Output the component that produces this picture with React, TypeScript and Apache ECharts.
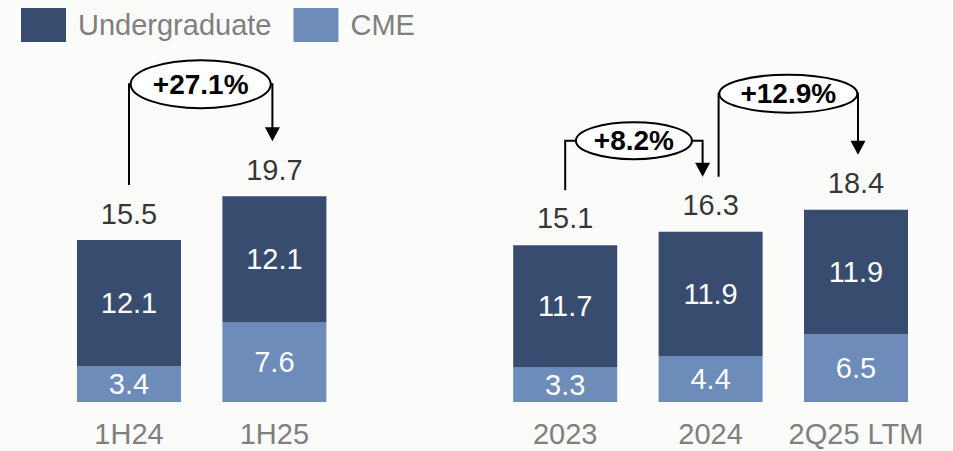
import React, { useEffect, useRef } from 'react';
import * as echarts from 'echarts';

const categories = ['1H24', '1H25', '', '2023', '2024', '2Q25 LTM'];
const undergraduate = [12.1, 12.1, null, 11.7, 11.9, 11.9];
const cme = [3.4, 7.6, null, 3.3, 4.4, 6.5];
const totals = [15.5, 19.7, null, 15.1, 16.3, 18.4];
const growthLabels = ['+27.1%', '+8.2%', '+12.9%'];
const growthFrom = [0, 3, 4];
const growthTo = [1, 4, 5];

const FONT = "'Liberation Sans', Arial, sans-serif";
const DARK = '#374c6e';
const LIGHT = '#6d8cb9';
const GRAY = '#7f7f7f';

// annotation styling (pixels)
const annStyle = [
  { rise: 112, rx: 70, ry: 24, sOff: 0, eOff: -2 },
  { rise: 91, rx: 58, ry: 18.5, sOff: 0, eOff: -8 },
  { rise: 116, rx: 69, ry: 19, sOff: 8, eOff: 2 },
];

export default function App() {
  const ref = useRef<HTMLDivElement>(null);
  useEffect(() => {
    if (!ref.current) return;
    const chart = echarts.init(ref.current, null, { renderer: 'svg' });
    chart.setOption({
      animation: false,
      backgroundColor: '#fbfbfa',
      textStyle: { fontFamily: FONT },
      legend: {
        left: 21,
        top: 8,
        padding: 0,
        itemWidth: 45,
        itemHeight: 34,
        itemGap: 22,
        icon: 'rect',
        selectedMode: false,
        data: ['Undergraduate', 'CME'],
        textStyle: { color: GRAY, fontSize: 29, fontFamily: FONT, padding: [0, 0, 0, 7] },
      },
      grid: { left: 56.3, right: 24.3, top: 88.5, bottom: 49, containLabel: false },
      xAxis: {
        type: 'category',
        data: categories,
        axisLine: { show: false },
        axisTick: { show: false },
        axisLabel: { color: GRAY, fontSize: 29, fontFamily: FONT, margin: 17, interval: 0 },
      },
      yAxis: { type: 'value', min: 0, max: 30, show: false, splitLine: { show: false } },
      series: [
        {
          name: 'CME',
          type: 'bar',
          stack: 'a',
          barWidth: 104,
          data: cme,
          itemStyle: { color: LIGHT },
          label: { show: true, position: 'inside', color: '#fff', fontSize: 29, fontFamily: FONT },
        },
        {
          name: 'Undergraduate',
          type: 'bar',
          stack: 'a',
          barWidth: 104,
          data: undergraduate,
          itemStyle: { color: DARK },
          label: { show: true, position: 'inside', color: '#fff', fontSize: 29, fontFamily: FONT },
        },
        {
          name: 'Total',
          type: 'scatter',
          data: totals,
          symbolSize: 0,
          label: { show: true, position: 'top', distance: 12, color: '#000', fontSize: 29, fontFamily: FONT },
          silent: true,
        },
      ],
    });

    const px = (i: number, v: number) => chart.convertToPixel({ xAxisIndex: 0, yAxisIndex: 0 }, [i, v]) as number[];
    const stackTop = (i: number) => (undergraduate[i] as number) + (cme[i] as number);
    const graphics: any[] = [];
    growthLabels.forEach((lab, k) => {
      const st = annStyle[k];
      const a = growthFrom[k];
      const b = growthTo[k];
      const pa = px(a, stackTop(a));
      const pb = px(b, stackTop(b));
      const sx = pa[0] + st.sOff;
      const ex = pb[0] + st.eOff;
      const sy = pa[1] - 55;
      const tip = pb[1] - 55;
      const cx = (sx + ex) / 2;
      const cy = Math.min(pa[1], pb[1]) - st.rise;
      const lineStyle = { stroke: '#000', lineWidth: 2, fill: 'none' };
      graphics.push({ type: 'polyline', shape: { points: [[sx, sy], [sx, cy], [cx - st.rx, cy]] }, style: lineStyle });
      graphics.push({ type: 'polyline', shape: { points: [[cx + st.rx, cy], [ex, cy], [ex, tip - 12]] }, style: lineStyle });
      graphics.push({ type: 'polygon', shape: { points: [[ex - 7.5, tip - 14], [ex + 7.5, tip - 14], [ex, tip]] }, style: { fill: '#000' } });
      graphics.push({ type: 'ellipse', shape: { cx, cy, rx: st.rx, ry: st.ry }, style: { fill: '#fff', stroke: '#000', lineWidth: 2 } });
      graphics.push({
        type: 'text',
        x: cx,
        y: cy,
        style: { text: lab, fill: '#000', font: `bold 28px ${FONT}`, align: 'center', verticalAlign: 'middle' },
      });
    });
    chart.setOption({ graphic: graphics });
    return () => chart.dispose();
  }, []);
  return <div ref={ref} style={{ position: 'absolute', left: 0, top: 0, width: 953, height: 451 }} />;
}
